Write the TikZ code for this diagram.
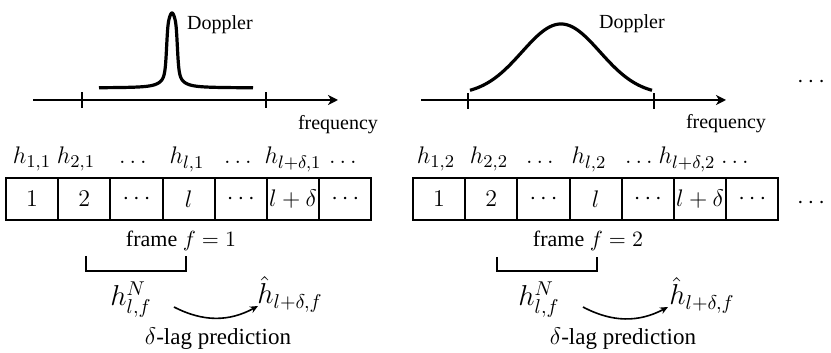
\documentclass[tikz,border=0pt]{standalone}
\usepackage[no-math]{fontspec}
\setmainfont{Liberation Serif}
\usetikzlibrary{arrows.meta,calc}
\begin{document}
\begin{tikzpicture}[x=0.5pt,y=0.5pt,
 cell/.style={draw,line width=1pt,minimum width=26.1pt,minimum height=21pt,inner sep=0pt,font=\large},
 axis/.style={line width=1pt,-{Stealth[length=5pt,width=5pt,inset=1.5pt]}},
 tickmark/.style={line width=0.8pt},
 spec/.style={line width=1.6pt},
 lbl/.style={anchor=base,inner sep=0pt},
 hlab/.style={lbl,font=\fontsize{12.5}{15}\selectfont},
 txt/.style={lbl,font=\fontsize{10}{12}\selectfont},
 frm/.style={lbl,font=\fontsize{11}{13}\selectfont},
 big/.style={lbl,font=\fontsize{14}{17}\selectfont},
 lag/.style={lbl,font=\fontsize{11.5}{14}\selectfont},
 brk/.style={line width=0.8pt},
 pred/.style={line width=0.8pt,-{Stealth[length=4pt,width=3.5pt]},bend right=28},
]
\useasboundingbox (0,0) rectangle (831,353);

% ---------- left panel ----------
\draw[axis] (33,253) -- (338,253);
\draw[tickmark] (82,245) -- (82,261);
\draw[tickmark] (266,245) -- (266,261);
\draw[spec] plot[domain=99:253,samples=617]
  (\x,{265+75*(0.6/(1+(min(abs(\x-172),12)/5.5)^8)+0.4/(1+((\x-172)/6)^2))});
\node[txt] (dop1) at (220,323) {Doppler};
\node[txt] (freq1) at (338,223) {frequency};

\foreach \i/\t in {1/$1$,2/$2$,3/$\cdots$,4/$l$,5/$\cdots$,6/$l+\delta$,7/$\cdots$}
  \node[cell] (L\i) at ({6+52.2*(\i-0.5)},154) {\t};
\foreach \i/\xx/\t in {1/32/$h_{1,1}$,2/76/$h_{2,1}$,3/133/$\ldots$,4/187/$h_{l,1}$,5/238/$\ldots$,6/293/$h_{l+\delta,1}$,7/343/$\ldots$}
  \node[hlab] (hL\i) at (\xx,189) {\t};

\node[frm] (fr1) at (181,106) {frame $f=1$};
\draw[brk] (86,97) -- (86,82) -- (186,82) -- (186,97);
\node[big] (hN1) at (131,47) {$h_{l,f}^{N}$};
\node[big] (hh1) at (290,49) {$\hat{h}_{l+\delta,f}$};
\coordinate (a1) at (174,46);
\coordinate (b1) at (258,47);
\draw[pred] (a1) to (b1);
\node[lag] (lag1) at (218,8) {$\delta$-lag prediction};

% ---------- right panel ----------
\draw[axis] (421,253) -- (726,253);
\draw[tickmark] (468,244) -- (468,260);
\draw[tickmark] (654,244) -- (654,260);
\draw[spec] plot[domain=470:652,samples=183] (\x,{263+66*(exp(-((\x-561)^2)/3042)-0.0698)/0.9302});
\node[txt] (dop2) at (632,324) {Doppler};
\node[txt] (freq2) at (726,224) {frequency};

\foreach \i/\t in {1/$1$,2/$2$,3/$\cdots$,4/$l$,5/$\cdots$,6/$l+\delta$,7/$\cdots$}
  \node[cell] (R\i) at ({413+52.2*(\i-0.5)},154) {\t};
\foreach \i/\xx/\t in {1/436/$h_{1,2}$,2/489/$h_{2,2}$,3/540/$\ldots$,4/589/$h_{l,2}$,5/639/$\ldots$,6/687/$h_{l+\delta,2}$,7/735/$\ldots$}
  \node[hlab] (hR\i) at (\xx,189) {\t};

\node[frm] (fr2) at (588,106) {frame $f=2$};
\draw[brk] (497,96) -- (497,82) -- (597,82) -- (597,96);
\node[big] (hN2) at (539,47) {$h_{l,f}^{N}$};
\node[big] (hh2) at (702,48) {$\hat{h}_{l+\delta,f}$};
\coordinate (a2) at (583,46);
\coordinate (b2) at (668,46);
\draw[pred] (a2) to (b2);
\node[lag] (lag2) at (623,8) {$\delta$-lag prediction};

% ---------- continuation dots ----------
\node[font=\large,inner sep=0pt] (d1) at (811,271) {$\cdots$};
\node[font=\large,inner sep=0pt] (d2) at (811,150) {$\cdots$};
\end{tikzpicture}
\end{document}
